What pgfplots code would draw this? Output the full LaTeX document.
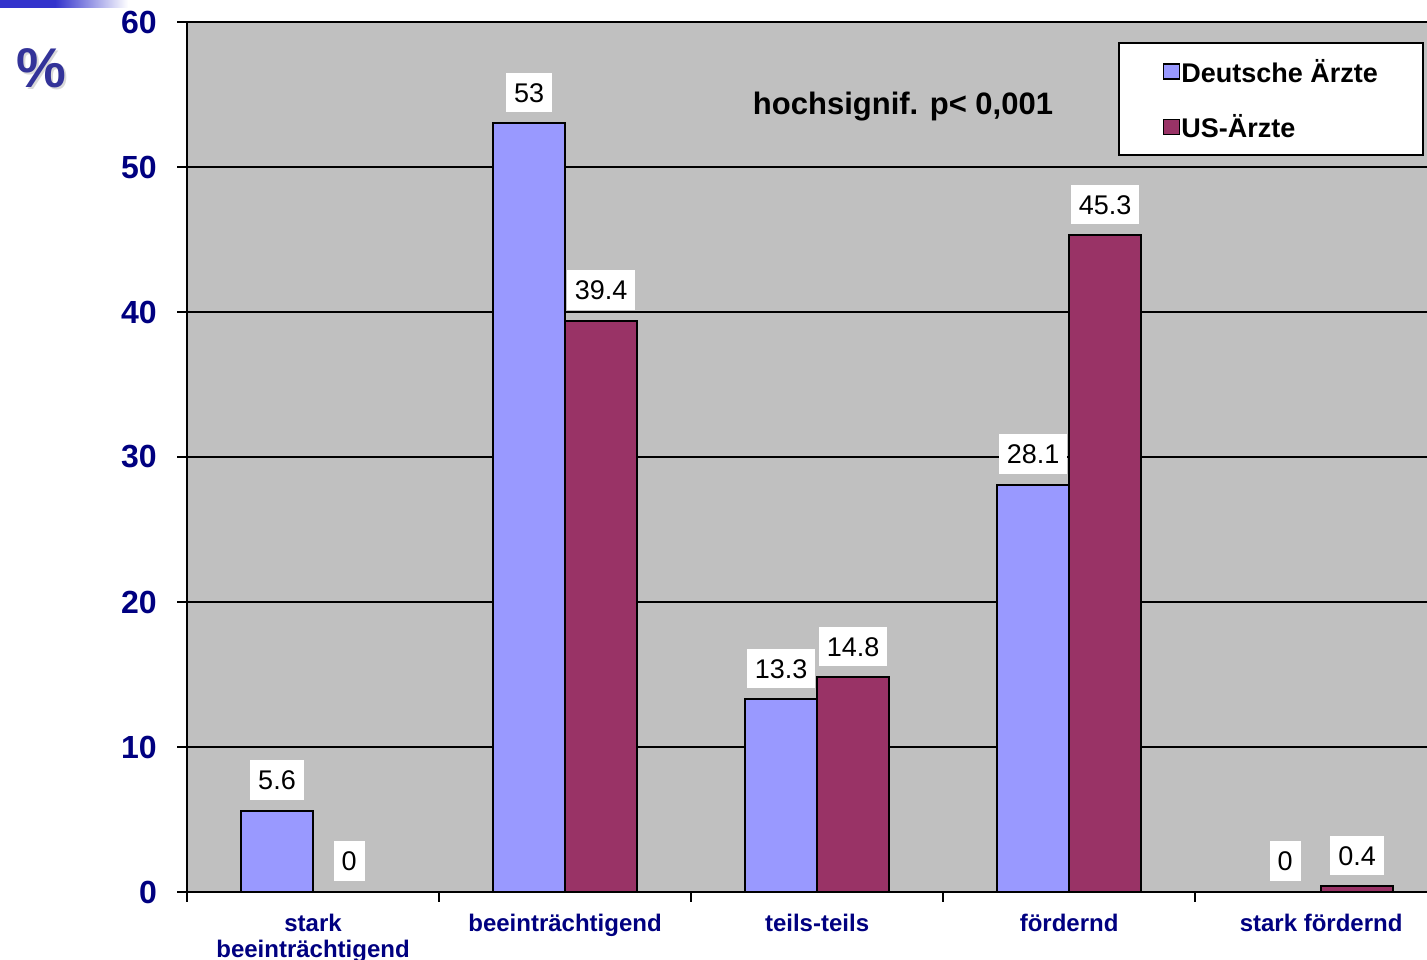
\documentclass[border=0pt]{standalone}
\usepackage{pgfplots}
\pgfplotsset{compat=1.18}
\usepackage{fontspec}
\setmainfont{Liberation Sans}

\definecolor{barblue}{HTML}{9999FF}
\definecolor{barred}{HTML}{993366}
\definecolor{plotgray}{HTML}{C0C0C0}
\definecolor{navy}{HTML}{000080}
\definecolor{pctblue}{HTML}{333399}
\definecolor{bandblue}{HTML}{3333CC}

\newcommand{\fs}[1]{\fontsize{#1pt}{#1pt}\selectfont}

\begin{document}
\begin{tikzpicture}[x=1pt,y=1pt]
\useasboundingbox (0,0) rectangle (1427,960);

% header band
\fill[bandblue] (0,952) rectangle (55,960);
\shade[left color=bandblue, right color=white] (55,952) rectangle (128,960);

% unit, with a soft drop shadow
\node[text=gray!30, font=\bfseries\fs{56}] at (43.5,889.5) {\%};
\node[text=pctblue, font=\bfseries\fs{56}] at (41,892) {\%};

\begin{axis}[
  at={(187pt,68pt)}, anchor=south west,
  scale only axis, width=1240pt, height=870pt,
  xmin=-0.5, xmax=4.42, ymin=0, ymax=60,
  axis background/.style={fill=plotgray},
  axis x line*=bottom, axis y line*=left,
  axis line style={-, line width=2pt, black},
  ytick={0,10,...,60},
  ymajorgrids, grid style={black, line width=2pt},
  tick align=outside, major tick length=10pt,
  tick style={black, line width=2pt},
  yticklabel style={font=\bfseries\fs{32}, text=navy, inner sep=0pt, xshift=-20pt,
    /pgf/number format/assume math mode=true},
  xtick={-0.5,0.5,1.5,2.5,3.5}, xticklabels={},
  extra x ticks={0,1,2,3,4},
  extra x tick labels={stark\\beeinträchtigend, beeinträchtigend, teils-teils, fördernd, stark fördernd},
  extra x tick style={major tick length=0pt, xmajorgrids=false,
    tick label style={font=\bfseries\fontsize{24pt}{26pt}\selectfont, text=navy, align=center, inner sep=0pt, yshift=-22pt}},
  ybar=0pt, bar width=0.2857,
  nodes near coords,
  every node near coord/.append style={fill=white, font=\fs{27}, text=black,
    inner xsep=8pt, inner ysep=10pt, text height=19.5pt, text depth=0pt,
    anchor=south, yshift=10pt, /pgf/number format/assume math mode=true},
  legend style={at={(0.9976,0.977)}, anchor=north east, draw=black, line width=2pt,
    fill=white, font=\bfseries\fs{27}, inner xsep=44pt, inner ysep=14pt,
    row sep=27pt, legend cell align=left, nodes={inner xsep=1pt}},
  legend image code/.code={\draw[#1, draw=black, line width=1.5pt] (0pt,-7.5pt) rectangle (16pt,7.5pt);},
]
\addplot[fill=barblue, draw=black, line width=2pt] coordinates {(0,5.6) (1,53) (2,13.3) (3,28.1) (4,0)};
\addplot[fill=barred, draw=black, line width=2pt] coordinates {(0,0) (1,39.4) (2,14.8) (3,45.3) (4,0.4)};
\legend{Deutsche Ärzte, US-Ärzte}
\end{axis}

\node[font=\bfseries\fs{31}] at (903,853) {hochsignif. p< 0,001};
\end{tikzpicture}
\end{document}
